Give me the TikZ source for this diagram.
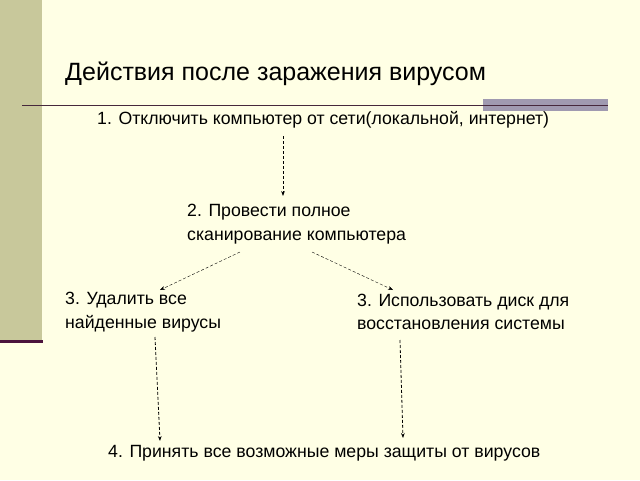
\documentclass[tikz,border=0pt]{standalone}
\usepackage{fontspec}
\usetikzlibrary{arrows.meta}
\setmainfont{Liberation Sans}
\begin{document}
\begin{tikzpicture}[x=1pt,y=-1pt,
  txt/.style={font=\fontsize{17.7}{23.5}\selectfont, align=left, anchor=west, inner sep=0},
  arr/.style={densely dashed, thick, -{Stealth[length=5pt]}}]
\useasboundingbox (0,0) rectangle (640,480);
\fill[fill={rgb,255:red,255;green,255;blue,229}] (0,0) rectangle (640,480);
\fill[fill={rgb,255:red,200;green,200;blue,155}] (0,0) rectangle (42,340);
\fill[fill={rgb,255:red,75;green,20;blue,60}] (0,340) rectangle (43,343);
\fill[fill={rgb,255:red,160;green,154;blue,176}] (483,99) rectangle (608,111);
\draw[line width=1pt,color={rgb,255:red,70;green,40;blue,60}] (22,105) -- (608,105);
\node[anchor=west,inner sep=0,font=\fontsize{25}{29}\selectfont] (title) at (65,74) {Действия после заражения вирусом};
\node[txt] (s1) at (97,120) {1. Отключить компьютер от сети(локальной, интернет)};
\node[txt] (s2) at (187,224) {2. Провести полное\\сканирование компьютера};
\node[txt] (s3a) at (65,312) {3. Удалить все\\найденные вирусы};
\node[txt] (s3b) at (357,312) {3. Использовать диск для\\восстановления системы};
\node[txt] (s4) at (108,453) {4. Принять все возможные меры защиты от вирусов};
\coordinate (a1) at (283,136); \coordinate (b1) at (283,196);
\coordinate (a2) at (240,252); \coordinate (b2) at (160,290);
\coordinate (a3) at (312,252); \coordinate (b3) at (393,290);
\coordinate (a4) at (155,337); \coordinate (b4) at (160,441);
\coordinate (a5) at (400,340); \coordinate (b5) at (403,438);
\draw[arr] (a1) -- (b1);
\draw[arr,thin] (a2) -- (b2);
\draw[arr,thin] (a3) -- (b3);
\draw[arr] (a4) -- (b4);
\draw[arr] (a5) -- (b5);
\end{tikzpicture}
\end{document}
